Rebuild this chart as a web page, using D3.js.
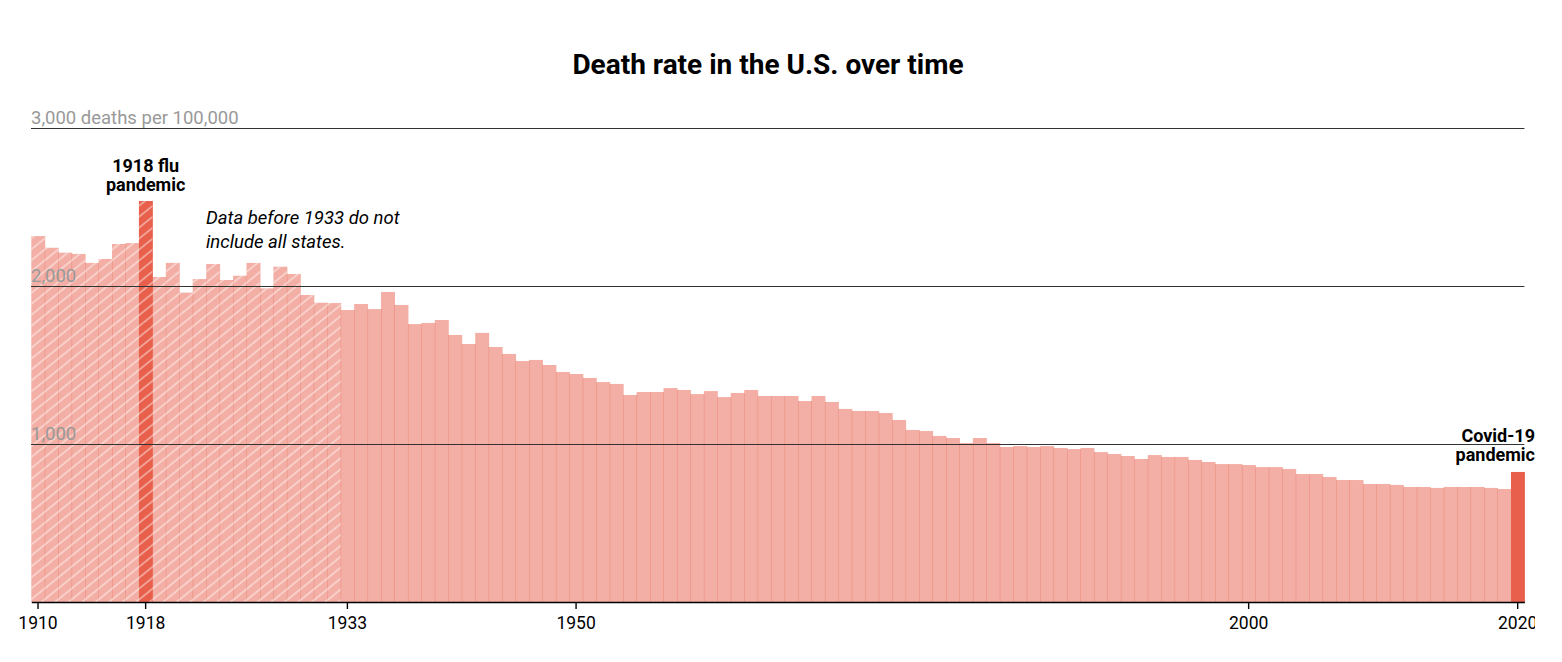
<!DOCTYPE html>
<html>
<meta charset="utf-8">
<title>Death rate in the U.S. over time</title>
<style>
body { margin: 0; background: #fff; }
text { font-family: Roboto, "Liberation Sans", sans-serif; }
.title { font-size: 28px; font-weight: 700; }
.grid-label { font-size: 18.5px; fill: #999; }
.note { font-size: 18.5px; font-style: italic; }
.anno { font-size: 18px; font-weight: 700; }
.tick-label { font-size: 17.5px; }
</style>
<body>
<svg id="chart" width="1535" height="662"></svg>
<script src="https://cdn.jsdelivr.net/npm/d3@7"></script>
<script>
// age-adjusted deaths per 100,000, 1910-2020
var years = d3.range(1910, 2021);
var rates = [
  2316, 2242, 2211, 2203, 2146, 2171, 2266, 2272, 2538, 2057,
  2146, 1958, 2044, 2139, 2038, 2065, 2146, 1985, 2122, 2076,
  1943, 1894, 1892, 1848, 1886, 1854, 1962, 1880, 1759, 1766,
  1785, 1690, 1633, 1703, 1614, 1570, 1525, 1532, 1500, 1456,
  1443, 1418, 1392, 1380, 1310, 1329, 1329, 1354, 1342, 1316,
  1335, 1297, 1323, 1342, 1304, 1304, 1304, 1272, 1304, 1266,
  1222, 1209, 1209, 1196, 1152, 1089, 1082, 1051, 1038, 1006,
  1038, 1006, 981, 987, 981, 987, 975, 968, 975, 949,
  937, 924, 905, 930, 918, 918, 899, 886, 873, 873,
  867, 854, 854, 842, 810, 810, 791, 772, 772, 747,
  747, 741, 728, 728, 722, 728, 728, 728, 722, 715,
  823
];
var highlightYears = [1918, 2020];
var incompleteBefore = 1933;
var gridValues = [1000, 2000, 3000];
var tickYears = [1910, 1918, 1933, 1950, 2000, 2020];

var data = years.map(function(y, i){ return {year: y, rate: rates[i]}; });

var svg = d3.select("#chart");

var x = d3.scaleBand().domain(years).range([31.3, 1524.4]).paddingInner(0);
var y = d3.scaleLinear().domain([0, 3000]).range([602, 128]);

var defs = svg.append("defs");
defs.append("pattern")
  .attr("id", "hatch")
  .attr("patternUnits", "userSpaceOnUse")
  .attr("width", 8.5).attr("height", 8.5)
  .attr("patternTransform", "rotate(51)")
  .append("line")
  .attr("x1", 1).attr("y1", 0).attr("x2", 1).attr("y2", 8.5)
  .attr("stroke", "#fff").attr("stroke-opacity", 0.65).attr("stroke-width", 1.2);

svg.append("text")
  .attr("class", "title")
  .attr("x", 768).attr("y", 74)
  .attr("text-anchor", "middle")
  .text("Death rate in the U.S. over time");

// bars, overlapping a touch so seams show like the original
svg.append("g").selectAll("rect")
  .data(data)
  .enter().append("rect")
  .attr("x", function(d){ return x(d.year); })
  .attr("y", function(d){ return y(d.rate); })
  .attr("width", x.bandwidth() + 0.5)
  .attr("height", function(d){ return y(0) - y(d.rate); })
  .attr("fill", "#e8604c")
  .attr("fill-opacity", function(d){ return highlightYears.indexOf(d.year) >= 0 ? 1 : 0.5; });

svg.append("g").selectAll("rect")
  .data(data.filter(function(d){ return d.year < incompleteBefore; }))
  .enter().append("rect")
  .attr("x", function(d){ return x(d.year); })
  .attr("y", function(d){ return y(d.rate); })
  .attr("width", x.bandwidth())
  .attr("height", function(d){ return y(0) - y(d.rate); })
  .attr("fill", "url(#hatch)");

// gridlines
var grid = svg.append("g");
grid.selectAll("line")
  .data(gridValues)
  .enter().append("line")
  .attr("x1", 31).attr("x2", 1524.4)
  .attr("y1", function(d){ return y(d) + 0.5; })
  .attr("y2", function(d){ return y(d) + 0.5; })
  .attr("stroke", "#333").attr("stroke-width", 1.2);

grid.selectAll("text")
  .data(gridValues)
  .enter().append("text")
  .attr("class", "grid-label")
  .attr("x", 31)
  .attr("y", function(d){ return y(d) - 4; })
  .text(function(d){ return d3.format(",")(d) + (d == 3000 ? " deaths per 100,000" : ""); });

// x axis
var xAxis = d3.axisBottom(x)
  .tickValues(tickYears)
  .tickSize(7)
  .tickSizeOuter(0);

var gx = svg.append("g")
  .attr("transform", "translate(0," + y(0) + ")")
  .call(xAxis);
gx.attr("font-family", null).attr("font-size", null);
gx.select(".domain").attr("stroke", "#000").attr("stroke-width", 1.4);
gx.selectAll(".tick line").attr("stroke", "#000").attr("stroke-width", 1.4);
gx.selectAll(".tick text")
  .attr("class", "tick-label")
  .attr("y", 15)
  .attr("fill", "#000");

// annotations
function multiline(xp, yp, lines, cls, anchor, lh){
  var t = svg.append("text")
    .attr("class", cls)
    .attr("x", xp).attr("y", yp)
    .attr("text-anchor", anchor);
  lines.forEach(function(l, i){
    t.append("tspan").attr("x", xp).attr("dy", i ? lh : 0).text(l);
  });
}

multiline(x(1918) + x.bandwidth()/2, 172, ["1918 flu", "pandemic"], "anno", "middle", 19);
multiline(206, 224, ["Data before 1933 do not", "include all states."], "note", "start", 24);
multiline(1535, 442, ["Covid-19", "pandemic"], "anno", "end", 19);
</script>
</body>
</html>
